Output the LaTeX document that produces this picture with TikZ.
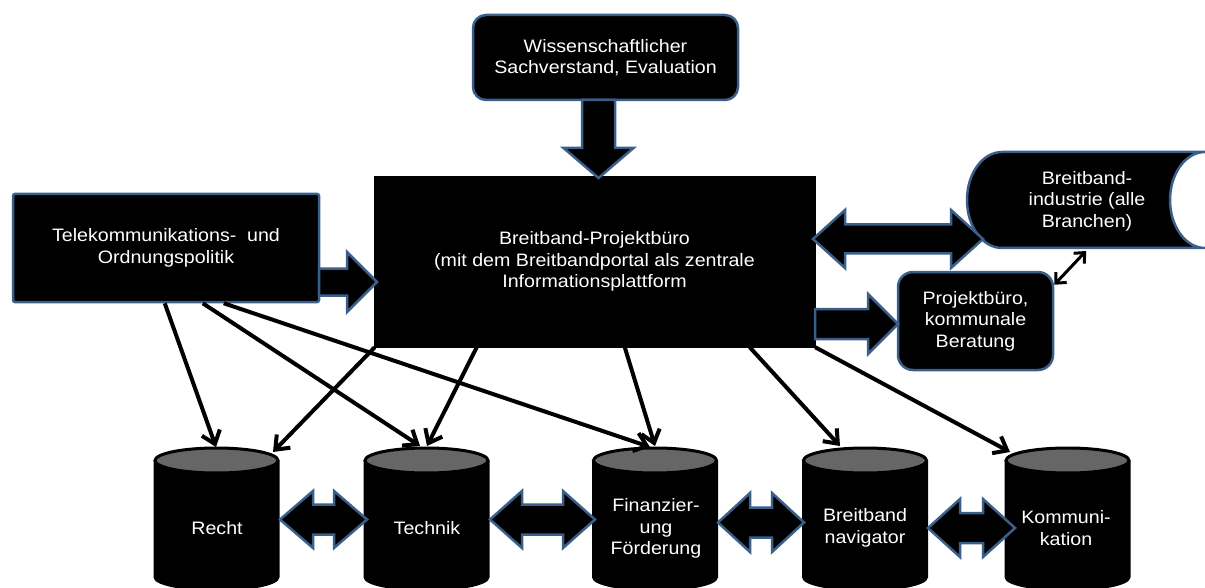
\documentclass[tikz,border=0pt]{standalone}
\usepackage{fontspec}
\setmainfont{Liberation Sans}[FakeStretch=1.09]
\usetikzlibrary{arrows.meta,calc}
\definecolor{bord}{HTML}{3A5F8A}
\definecolor{capgray}{HTML}{666666}
% horizontal double block arrow: x1 x2 yc shaft-half head-half head-length
\newcommand\mydblarrow[6]{%
  \draw[blockarrow] (#1,#3) -- (#1+#6,#3-#5) -- (#1+#6,#3-#4) -- (#2-#6,#3-#4) -- (#2-#6,#3-#5) -- (#2,#3)
    -- (#2-#6,#3+#5) -- (#2-#6,#3+#4) -- (#1+#6,#3+#4) -- (#1+#6,#3+#5) -- cycle;}
% single right block arrow: x1 x2 yc shaft-half head-half head-length
\newcommand\myarrowR[6]{%
  \draw[blockarrow] (#1,#3-#4) -- (#2-#6,#3-#4) -- (#2-#6,#3-#5) -- (#2,#3) -- (#2-#6,#3+#5) -- (#2-#6,#3+#4) -- (#1,#3+#4) -- cycle;}
% single down block arrow: y1 y2 xc shaft-half head-half head-length
\newcommand\myarrowD[6]{%
  \draw[blockarrow] (#3-#4,#1) -- (#3-#4,#2-#6) -- (#3-#5,#2-#6) -- (#3,#2) -- (#3+#5,#2-#6) -- (#3+#4,#2-#6) -- (#3+#4,#1) -- cycle;}
% cylinder centred at x
\newcommand\mycyl[1]{%
  \draw[cylline, fill=black] (#1-61.5,460.5) -- (#1-61.5,577) arc[start angle=180,end angle=0,x radius=61.5,y radius=12.5] -- (#1+61.5,460.5);
  \draw[cylline, fill=capgray] (#1,460.5) ellipse[x radius=61.5,y radius=12.5];}
\begin{document}
\begin{tikzpicture}[x=1pt,y=-1pt,
  every node/.style={font=\fontsize{18}{21.5}\selectfont, text=white, align=center, inner sep=0pt},
  box/.style={draw=bord, line width=2.5pt, fill=black},
  blockarrow/.style={draw=bord, line width=2.5pt, fill=black, line join=miter},
  cylline/.style={draw=black, line width=3pt},
  conn/.style={draw=black, line width=4pt, -{Straight Barb[length=12pt,width=19pt]}},
  smallconn/.style={draw=black, line width=3pt, {Straight Barb[length=8pt,width=15pt]}-{Straight Barb[length=8pt,width=15pt]}}
]
\useasboundingbox (0,0) rectangle (1205,588);
\clip (0,0) rectangle (1205,588);

% cylinders
\mycyl{216.5}
\mycyl{426.5}
\mycyl{655}
\mycyl{865}
\mycyl{1067.5}
\node (recht) at (217,528) {Recht};
\node (technik) at (427,528) {Technik};
\node (finanz) at (656,528.5) {Finanzier-\\ung\\Förderung};
\node (navi) at (865,528) {Breitband\\navigator};
\node (komm) at (1066,528) {Kommuni-\\kation};

% arrow targets on cylinder tops
\coordinate (recht-a) at (216,447);
\coordinate (recht-b) at (273,452);
\coordinate (technik-a) at (420,446);
\coordinate (technik-b) at (427,446);
\coordinate (finanz-a) at (650,447);
\coordinate (finanz-b) at (655,446);
\coordinate (navi-b) at (840,446);
\coordinate (komm-b) at (1010,452);

% boxes
\node[box, rounded corners=13pt, minimum width=265pt, minimum height=85pt] (wiss) at (605.5,57.5)
  {Wissenschaftlicher\\Sachverstand, Evaluation};
\node[box, draw=black, line width=0.5pt, minimum width=441pt, minimum height=171pt] (buero) at (594.5,261.5)
  {Breitband-Projektbüro\\(mit dem Breitbandportal als zentrale\\Informationsplattform};
\node[box, rounded corners=2pt, minimum width=306pt, minimum height=108pt] (telekom) at (166,248)
  {Telekommunikations-\hspace{0.6em}und\\Ordnungspolitik};
\node[box, rounded corners=15pt, minimum width=155pt, minimum height=98pt] (pbuero) at (975.5,321)
  {Projektbüro,\\kommunale\\Beratung};

% Breitbandindustrie (horizontal drum)
\draw[box] (1205,152) -- (1002,152) arc[start angle=270,end angle=90,x radius=35,y radius=48]
  -- (1205,248) arc[start angle=90,end angle=270,x radius=35,y radius=48] -- cycle;
\node (ind) at (1087,201) {Breitband-\\industrie (alle\\Branchen)};
\coordinate (ind-b) at (1086,251);

% thin connectors
\draw[conn] ($(telekom.south west)+(153,0)$) -- (recht-a);
\draw[conn] ($(telekom.south west)+(191,0)$) -- (technik-a);
\draw[conn] ($(telekom.south west)+(212,0)$) -- (finanz-a);
\draw[conn] ($(buero.south west)+(1,0)$) -- (recht-b);
\draw[conn] ($(buero.south west)+(103,0)$) -- (technik-b);
\draw[conn] ($(buero.south west)+(251,0)$) -- (finanz-b);
\draw[conn] ($(buero.south west)+(376,0)$) -- (navi-b);
\draw[conn] (buero.south east) -- (komm-b);
\draw[smallconn] ($(pbuero.north east)+(0,14)$) -- (ind-b);

% block arrows
\myarrowD{100}{178}{598.5}{16.5}{35}{30}
\myarrowR{319}{377}{282}{13.5}{30}{30}
\myarrowR{815}{898}{324}{15}{30}{30}
\mydblarrow{813}{983}{239}{14.5}{29}{32}
\mydblarrow{280}{367}{519.5}{15}{28.5}{33}
\mydblarrow{490}{595}{519.5}{15}{28.5}{32}
\mydblarrow{718}{804}{522.5}{15}{29.5}{32}
\mydblarrow{928}{1015}{528}{15}{29}{32}
\end{tikzpicture}
\end{document}
